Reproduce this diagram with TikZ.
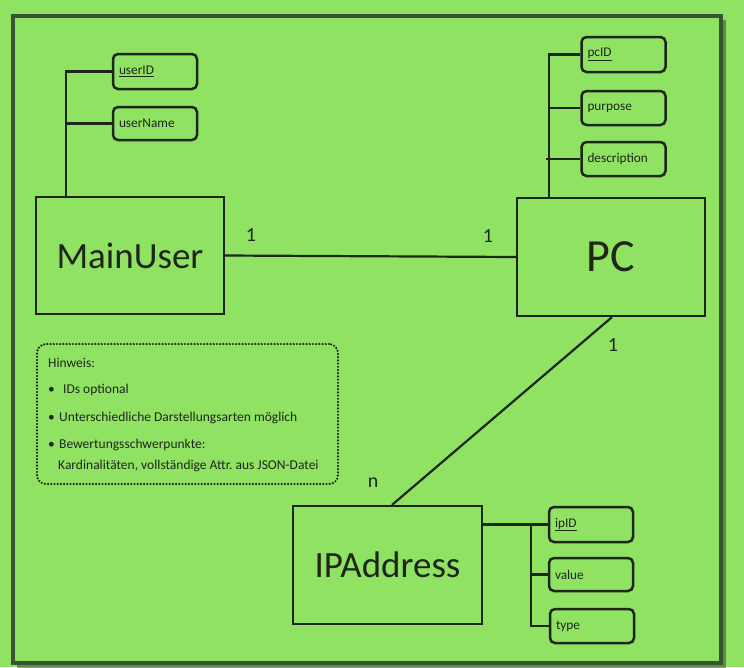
\documentclass[tikz,border=0pt]{standalone}
\usepackage{fontspec}
\setmainfont{Carlito}
\usetikzlibrary{calc}
\frenchspacing
\definecolor{bg}{RGB}{144,226,98}
\definecolor{frame}{RGB}{58,84,50}
\definecolor{ink}{RGB}{30,38,28}
\tikzset{
  entity/.style={draw=ink, line width=2.2pt, inner sep=0pt, text=ink},
  attr/.style={draw=ink, line width=2.5pt, rounded corners=5pt, minimum height=34pt,
    text width=72pt, inner xsep=6pt, inner ysep=0pt, align=left, font=\fontsize{13.3}{15}\selectfont, text=ink},
  conn/.style={draw=ink, line width=2.2pt},
  card/.style={font=\fontsize{20}{22}\selectfont, text=ink, inner sep=0pt},
  notebox/.style={draw=ink, line width=2.4pt, dash pattern=on 0pt off 3.2pt, line cap=round,
    rounded corners=9pt, minimum width=301pt, minimum height=140pt},
  notetext/.style={font=\fontsize{13.5}{15}\selectfont, text=ink, inner sep=0pt, anchor=west}
}
\begin{document}
\begin{tikzpicture}[x=1pt,y=-1pt]
\fill[bg] (0,0) rectangle (744,667);
\useasboundingbox (0,0) rectangle (744,667);
% frame shadow and frame
\draw[frame!70!black, line width=3pt, opacity=0.5] (724,20) -- (724,666) -- (17,666);
\draw[frame, line width=3.5pt] (13,16) rectangle (721,663);

% entities
\node[entity, minimum width=188pt, minimum height=117pt, font=\fontsize{37}{40}\selectfont] (mu) at (130,255.5) {MainUser};
\node[entity, minimum width=188pt, minimum height=118pt, font=\fontsize{46}{50}\selectfont] (pc) at (611,257) {PC};
\node[entity, minimum width=189pt, minimum height=118pt, font=\fontsize{37}{40}\selectfont] (ip) at (387.5,565) {IPAddress};

% attributes
\node[attr, minimum height=35pt] (uid) at (155,71.5) {\underline{userID}};
\node[attr, minimum height=33pt] (uname) at (155,123.5) {userName};
\node[attr, minimum height=35pt] (pcid) at (623.5,54.5) {\underline{pcID}};
\node[attr, minimum height=34pt] (purp) at (623.5,108) {purpose};
\node[attr, minimum height=34pt] (desc) at (623.5,159) {description};
\node[attr, minimum height=35pt] (ipid) at (591,524.5) {\underline{ipID}};
\node[attr, minimum height=33pt] (val) at (591,574.5) {value};
\node[attr, minimum height=34pt] (typ) at (592,626) {type};

% attribute connectors
\coordinate (t1) at (66,71.5);
\draw[conn] (uid.west) -- (t1) -- (t1 |- mu.north);
\draw[conn] (uname.west) -- (uname.west -| t1);
\coordinate (t2) at (549,54.5);
\draw[conn] (pcid.west) -- (t2) -- (t2 |- pc.north);
\draw[conn] (purp.west) -- (purp.west -| t2);
\draw[conn] (desc.west) -- ([xshift=-3pt]desc.west -| t2);
\coordinate (t3) at (531,524.5);
\draw[conn] (ipid.west) -- (ipid.west -| ip.east);
\draw[conn] (t3) |- (typ.west);
\draw[conn] (val.west) -- (val.west -| t3);

% relationships
\draw[conn] (mu.east) -- (pc.west);
\draw[conn] ([xshift=1pt]pc.south) -- ([xshift=4.5pt]ip.north);
\node[card] (c1) at (251,235) {1};
\node[card] (c2) at (488,236) {1};
\node[card] (c3) at (613,345) {1};
\node[card] (c4) at (373,483) {n};

% note
\node[notebox] (note) at (187.5,414) {};
\node[notetext] (h) at (48,363) {Hinweis:};
\node[notetext] (b1) at (48,390) {\textbullet};
\node[notetext] (n1) at (63,390) {IDs optional};
\node[notetext] (b2) at (48,418) {\textbullet};
\node[notetext] (n2) at (59,418) {Unterschiedliche Darstellungsarten möglich};
\node[notetext] (b3) at (48,445) {\textbullet};
\node[notetext] (n3) at (59,445) {Bewertungsschwerpunkte:};
\node[notetext] (n4) at (58,466) {Kardinalitäten, vollständige Attr. aus JSON-Datei};
\end{tikzpicture}
\end{document}
